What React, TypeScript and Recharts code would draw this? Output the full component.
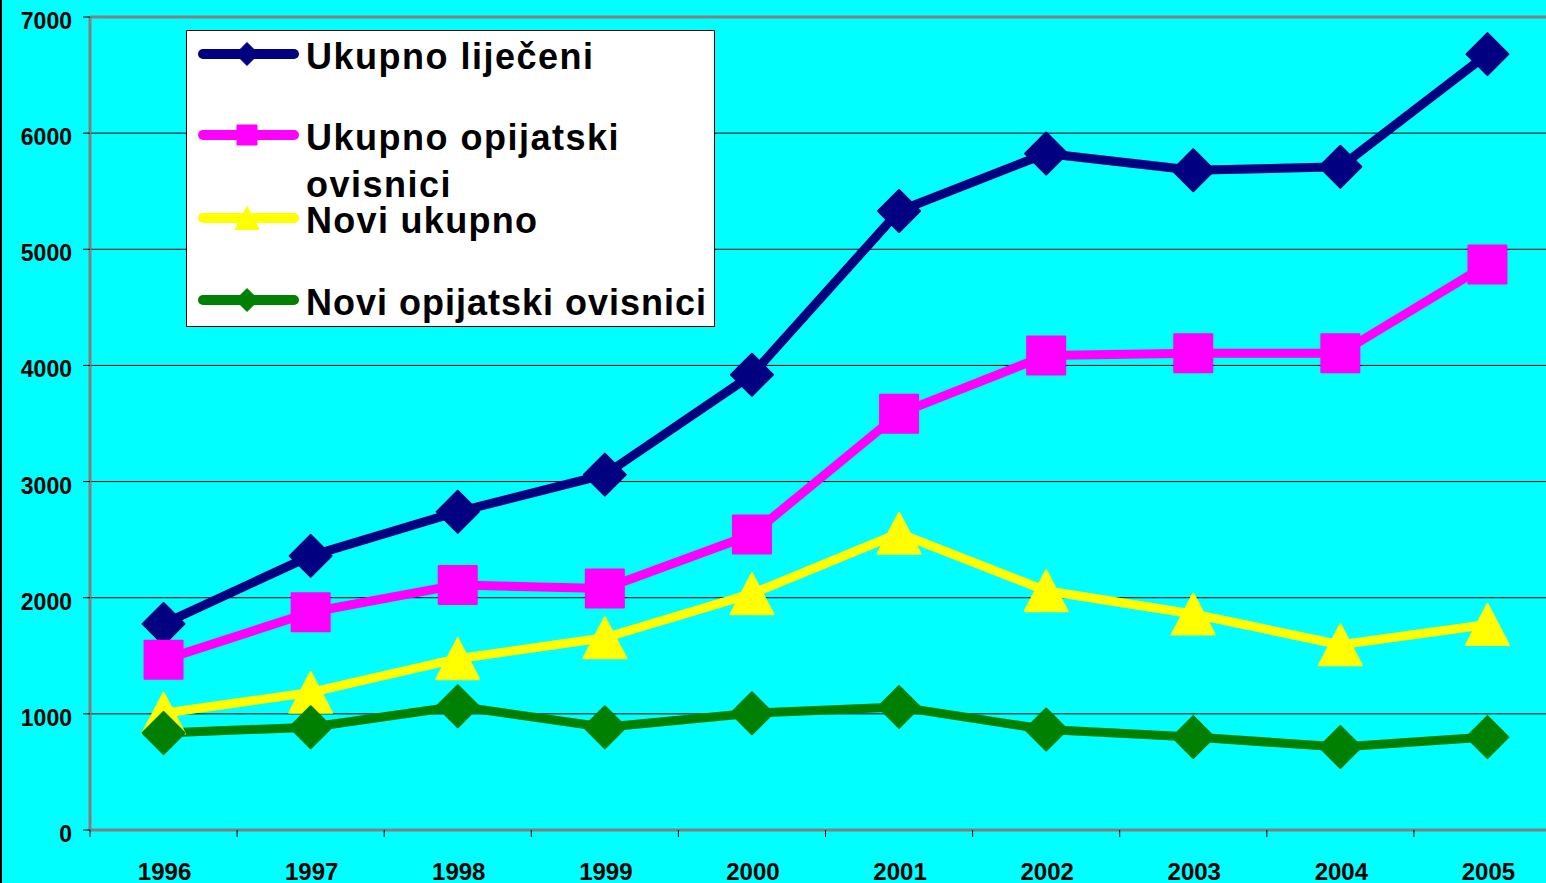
import React from 'react';
import { LineChart, Line, XAxis, YAxis, CartesianGrid, Legend, ReferenceLine } from 'recharts';

// ---- data ----
const years = [1996, 1997, 1998, 1999, 2000, 2001, 2002, 2003, 2004, 2005];
const ukupnoLijeceni = [1775, 2360, 2740, 3060, 3920, 5330, 5825, 5680, 5710, 6680];
const ukupnoOpijatski = [1465, 1875, 2110, 2080, 2545, 3585, 4085, 4105, 4105, 4870];
const noviUkupno = [1005, 1185, 1475, 1655, 2035, 2555, 2060, 1860, 1595, 1770];
const noviOpijatski = [835, 885, 1065, 885, 1005, 1060, 865, 800, 715, 800];
const yTicks = [0, 1000, 2000, 3000, 4000, 5000, 6000, 7000];

const seriesNames = ['Ukupno liječeni', 'Ukupno opijatski ovisnici', 'Novi ukupno', 'Novi opijatski ovisnici'];
const legendLines = [['Ukupno liječeni'], ['Ukupno opijatski', 'ovisnici'], ['Novi ukupno'], ['Novi opijatski ovisnici']];
const seriesColors = ['#000080', '#FF00FF', '#FFFF00', '#008000'];
const seriesKeys = ['a', 'b', 'c', 'd'];
const seriesShapes = ['diamond', 'square', 'triangle', 'diamond'];

const data = years.map((year, i) => ({
  year,
  a: ukupnoLijeceni[i],
  b: ukupnoOpijatski[i],
  c: noviUkupno[i],
  d: noviOpijatski[i],
}));

// ---- layout ----
const W = 1546;
const H = 883;
const CHART_W = 1561;
const Y_AXIS_W = 90;
const TOP = 17;
const X_AXIS_H = 53;
const PLOT_W = CHART_W - Y_AXIS_W;
const HALF_BAND = PLOT_W / years.length / 2;
const FONT = '"Liberation Sans", Arial, Helvetica, sans-serif';

function markerPath(shape: string, cx: number, cy: number, s: number): string {
  if (shape === 'diamond') {
    return `M${cx},${cy - s}L${cx + s},${cy}L${cx},${cy + s}L${cx - s},${cy}Z`;
  }
  if (shape === 'square') {
    return `M${cx - s},${cy - s}L${cx + s},${cy - s}L${cx + s},${cy + s}L${cx - s},${cy + s}Z`;
  }
  return `M${cx},${cy - s}L${cx + s * 1.05},${cy + s}L${cx - s * 1.05},${cy + s}Z`;
}

const markerSize: Record<string, number> = { diamond: 21, square: 19, triangle: 20.5 };

function makeDot(shape: string, color: string) {
  return (props: any) => {
    const { cx, cy, index } = props;
    if (cx == null || cy == null) return <g key={index} />;
    return (
      <path
        key={index}
        d={markerPath(shape, cx, cy, markerSize[shape])}
        fill={color}
        stroke={color}
        strokeWidth={2}
        strokeLinejoin="round"
      />
    );
  };
}

const YTick = (props: any) => {
  const { x, y, payload } = props;
  return (
    <text x={x} y={y + 12} textAnchor="end" fontFamily={FONT} fontWeight="bold" fontSize={23} fill="#000">
      {payload.value}
    </text>
  );
};

const XTick = (props: any) => {
  const { x, y, payload } = props;
  return (
    <g>
      <line x1={x - HALF_BAND} x2={x - HALF_BAND} y1={y} y2={y + 7} stroke="#000" strokeWidth={1} />
      <text x={x + 1} y={y + 50} textAnchor="middle" fontFamily={FONT} fontWeight="bold" fontSize={24} fill="#000">
        {payload.value}
      </text>
    </g>
  );
};

const rowCenters = [24, 105, 188, 270];
const legendSpacing = [1.5, 1.5, 1.3, 1.0];
const LegendBox = () => (
  <svg width={529} height={297} style={{ display: 'block' }}>
    <rect x={0.5} y={0.5} width={528} height={296} fill="#FFFFFF" stroke="#000" strokeWidth={1} />
    {seriesNames.map((name, i) => {
      const cy = rowCenters[i];
      const shape = seriesShapes[i];
      const color = seriesColors[i];
      const s = shape === 'square' ? 10 : 11.5;
      return (
        <g key={name}>
          <line x1={17} x2={108} y1={cy} y2={cy} stroke={color} strokeWidth={10} strokeLinecap="round" />
          <path d={markerPath(shape, 61, cy, s)} fill={color} stroke={color} strokeWidth={1} strokeLinejoin="round" />
          {legendLines[i].map((ln, j) => (
            <text
              key={j}
              x={120}
              y={cy + 15 + j * 47}
              fontFamily={FONT}
              fontWeight="bold"
              fontSize={36}
              letterSpacing={legendSpacing[i]}
              fill="#000"
            >
              {ln}
            </text>
          ))}
        </g>
      );
    })}
  </svg>
);

export default function App() {
  return (
    <div
      style={{
        position: 'absolute',
        left: 0,
        top: 0,
        width: W,
        height: H,
        overflow: 'hidden',
        background: '#00FFFF',
      }}
    >
      <LineChart
        width={CHART_W}
        height={H}
        data={data}
        margin={{ top: TOP, right: 0, bottom: 0, left: 0 }}
        style={{ background: '#00FFFF' }}
      >
        <CartesianGrid vertical={false} stroke="#000" strokeWidth={1} />
        <XAxis
          dataKey="year"
          type="category"
          interval={0}
          height={X_AXIS_H}
          padding={{ left: HALF_BAND, right: HALF_BAND }}
          axisLine={{ stroke: '#808080', strokeWidth: 3 }}
          tickLine={false}
          tickSize={0}
          tickMargin={0}
          tick={<XTick />}
        />
        <YAxis
          domain={[0, 7000]}
          ticks={yTicks}
          width={Y_AXIS_W}
          tickSize={7}
          tickMargin={11}
          tickLine={{ stroke: '#000', strokeWidth: 1 }}
          axisLine={{ stroke: '#808080', strokeWidth: 3 }}
          tick={<YTick />}
          interval={0}
        />
        <ReferenceLine y={7000} stroke="#808080" strokeWidth={3} />
        {seriesKeys.map((k, i) => (
          <Line
            key={k}
            type="linear"
            dataKey={k}
            name={seriesNames[i]}
            stroke={seriesColors[i]}
            strokeWidth={9}
            strokeLinejoin="round"
            dot={makeDot(seriesShapes[i], seriesColors[i])}
            activeDot={false}
            isAnimationActive={false}
          />
        ))}
        <Legend
          layout="vertical"
          align="center"
          verticalAlign="middle"
          wrapperStyle={{ left: 186, top: 30, width: 529, height: 297 }}
          content={() => <LegendBox />}
        />
      </LineChart>
      <div style={{ position: 'absolute', left: 0, top: 0, width: 2, height: H, background: '#000' }} />
    </div>
  );
}
